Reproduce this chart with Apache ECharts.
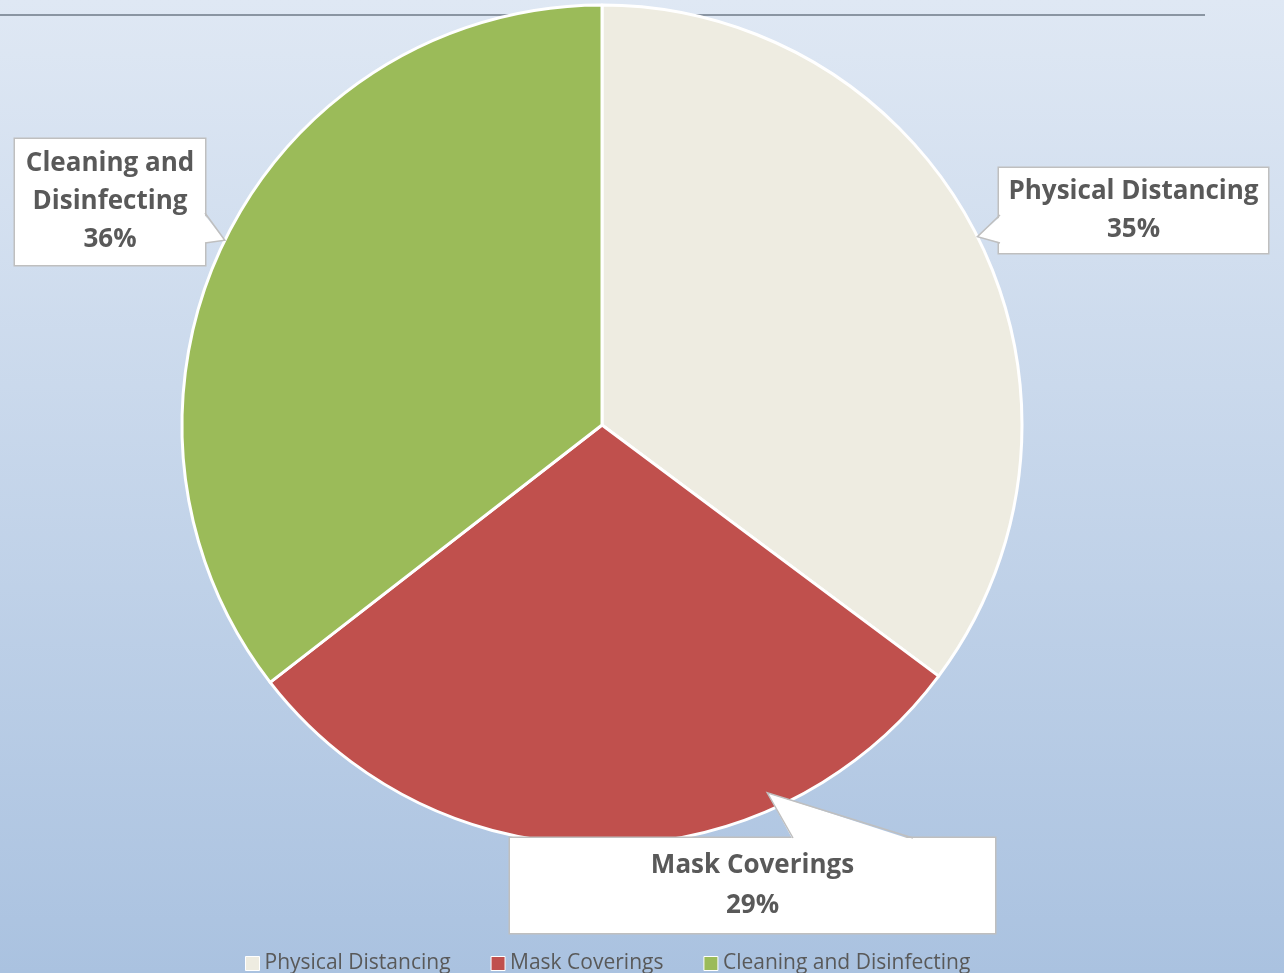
<!DOCTYPE html>
<html>
<head>
<meta charset="utf-8">
<script src="https://cdn.jsdelivr.net/npm/echarts@6/dist/echarts.min.js"></script>
<style>
  html, body { margin: 0; padding: 0; }
  #safetyPie { width: 1284px; height: 973px; }
</style>
</head>
<body>
<div id="safetyPie"></div>
<script>
var categories = ['Physical Distancing', 'Mask Coverings', 'Cleaning and Disinfecting'];
var shares = [35.2, 29.3, 35.5];
var labelNames = ['Physical Distancing', 'Mask Coverings', 'Cleaning and\nDisinfecting'];
var colors = ['#eeece1', '#c0504d', '#9bbb59'];

// callout boxes (centre, width, line height, top/bottom padding) and the base of each pointer
var callouts = [
  { cx: 1133.5, cy: 210.5, w: 269, lh: 38, pad: [5, 4],  base: [[1000, 215], [1000, 243]], tipAngle: null, tipR: 1 },
  { cx: 752.5,  cy: 885.5, w: 485, lh: 40, pad: [10, 5], base: [[793, 838], [913, 838]],   tipAngle: 155.8, tipR: 0.96 },
  { cx: 110,    cy: 202,   w: 190, lh: 38, pad: [7, 5],  base: [[205, 213], [205, 243]],   tipAngle: null, tipR: 1 }
];

var FONT = '"Open Sans", "Noto Sans", sans-serif';
var chartDom = document.getElementById('safetyPie');
var myChart = echarts.init(chartDom);

var pieData = categories.map(function (name, i) {
  var c = callouts[i];
  return {
    name: name,
    value: shares[i],
    itemStyle: { color: colors[i] },
    label: { width: c.w, lineHeight: c.lh, padding: [c.pad[0], 0, c.pad[1], 0] }
  };
});

var option = {
  backgroundColor: {
    type: 'linear', x: 0, y: 0, x2: 0, y2: 1,
    colorStops: [
      { offset: 0, color: '#dfe8f4' },
      { offset: 1, color: '#aac2e0' }
    ]
  },
  animation: false,
  legend: {
    data: categories,
    left: 240,
    top: 948,
    icon: 'rect',
    itemWidth: 14,
    itemHeight: 14,
    itemGap: 40,
    itemStyle: { borderColor: '#ffffff', borderWidth: 1 },
    textStyle: { fontFamily: FONT, fontSize: 21, color: '#595959' }
  },
  graphic: [
    {
      type: 'line', z: 0,
      shape: { x1: 0, y1: 15, x2: 1205, y2: 15 },
      style: { stroke: '#8a95a2', lineWidth: 2 }
    }
  ],
  series: [
    {
      type: 'pie',
      center: [602, 425],
      radius: 420,
      startAngle: 90,
      clockwise: true,
      emphasis: { scale: false },
      itemStyle: { borderColor: '#ffffff', borderWidth: 3 },
      label: {
        show: true,
        position: 'outside',
        fontFamily: FONT,
        fontSize: 26,
        fontWeight: 'bold',
        color: '#595959',
        align: 'center',
        verticalAlign: 'middle',
        backgroundColor: '#ffffff',
        borderColor: '#bfbfbf',
        borderWidth: 1.5,
        formatter: function (p) {
          return labelNames[p.dataIndex] + '\n' + Math.round(p.percent) + '%';
        }
      },
      labelLine: { show: false },
      labelLayout: function (p) {
        var c = callouts[p.dataIndex];
        return { x: c.cx, y: c.cy, align: 'center', verticalAlign: 'middle' };
      },
      data: pieData
    }
  ]
};

myChart.setOption(option);

// pointers of the callouts, aimed at the slices laid out by the pie
var data = myChart.getModel().getSeriesByIndex(0).getData();
var pointers = [];
callouts.forEach(function (c, i) {
  var lay = data.getItemLayout(i);
  var ang = c.tipAngle == null ? (lay.startAngle + lay.endAngle) / 2
                               : -Math.PI / 2 + c.tipAngle * Math.PI / 180;
  var tip = [lay.cx + lay.r * c.tipR * Math.cos(ang), lay.cy + lay.r * c.tipR * Math.sin(ang)];
  var inner = c.base.map(function (b) {
    if (c.base[0][0] === c.base[1][0]) return [b[0] + (c.cx > b[0] ? 2 : -2), b[1]];
    return [b[0], b[1] + (c.cy > b[1] ? 2 : -2)];
  });
  pointers.push({
    type: 'polygon', z: 10,
    shape: { points: [inner[0], tip, inner[1]] },
    style: { fill: '#ffffff', stroke: null }
  });
  pointers.push({
    type: 'polyline', z: 11,
    shape: { points: [c.base[0], tip, c.base[1]] },
    style: { stroke: '#bfbfbf', lineWidth: 1.5, fill: null }
  });
});
myChart.setOption({ graphic: option.graphic.concat(pointers) });
</script>
</body>
</html>
